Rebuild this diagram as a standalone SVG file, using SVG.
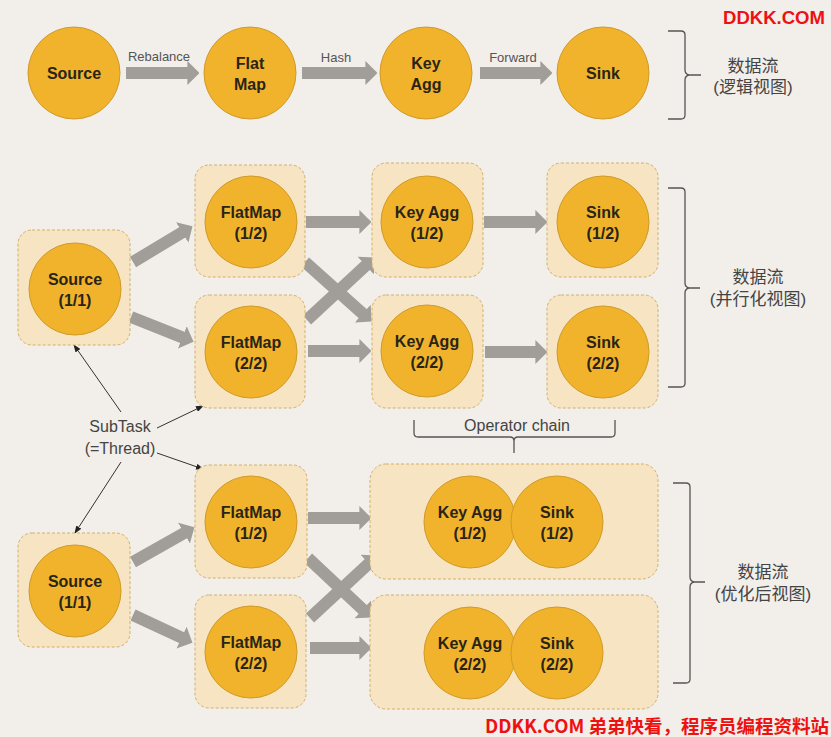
<svg xmlns="http://www.w3.org/2000/svg" width="831" height="737" viewBox="0 0 831 737">
<defs>
<style>
.bg{fill:#f2eee9}
.c{fill:#f1b32b;stroke:#cf9a2a;stroke-width:1}
.box{fill:#f6e4c3;stroke:#d4b067;stroke-width:1;stroke-dasharray:3 2}
.t{font-family:"Liberation Sans",Arial,sans-serif;font-weight:bold;font-size:16px;fill:#2a2418;text-anchor:middle}
.lbl{font-family:"Liberation Sans",Arial,sans-serif;font-size:13px;fill:#555;text-anchor:middle}
.note{font-family:"Liberation Sans",Arial,sans-serif;font-size:16px;fill:#444;text-anchor:middle}
.cn{font-family:"Liberation Sans","Noto Sans CJK SC",sans-serif;font-size:17px;fill:#444;text-anchor:middle}
.red{font-family:"Noto Sans CJK SC",sans-serif;font-weight:bold;fill:#ee1111;text-anchor:end}
.redl{font-family:"Liberation Sans",Arial,sans-serif;font-weight:bold;fill:#ee1111}
.fat{stroke:#a19e9a;stroke-width:12;fill:none;marker-end:url(#ah)}
.thin{stroke:#333;stroke-width:1;fill:none;marker-end:url(#th)}
.br{stroke:#555;stroke-width:1.3;fill:none}
</style>
<marker id="ah" viewBox="0 0 1 2" markerWidth="1" markerHeight="2" refX="0.05" refY="1" orient="auto" markerUnits="strokeWidth">
<path d="M0,0 L1,1 L0,2 Z" fill="#a19e9a"/>
</marker>
<marker id="th" viewBox="0 0 8 6" markerWidth="8" markerHeight="6" refX="7" refY="3" orient="auto" markerUnits="userSpaceOnUse">
<path d="M0,0 L8,3 L0,6 Z" fill="#222"/>
</marker>
</defs>
<rect class="bg" x="0" y="0" width="831" height="737"/>

<g id="connectors">
<line class="fat" x1="126" y1="73" x2="188" y2="73"/>
<line class="fat" x1="302" y1="73" x2="366" y2="73"/>
<line class="fat" x1="480" y1="73" x2="541" y2="73"/>
<line class="fat" x1="133" y1="262" x2="182.7" y2="232.2"/>
<line class="fat" x1="131" y1="317" x2="182.9" y2="337.6"/>
<line class="fat" x1="306" y1="222" x2="360" y2="222"/>
<line class="fat" x1="308" y1="351" x2="360" y2="351"/>
<line class="fat" x1="305" y1="262" x2="363.1" y2="314"/>
<line class="fat" x1="307" y1="320" x2="366.2" y2="265.2"/>
<line class="fat" x1="484" y1="222" x2="536" y2="222"/>
<line class="fat" x1="485" y1="352" x2="536" y2="352"/>
<line class="fat" x1="133" y1="562" x2="184.5" y2="532.9"/>
<line class="fat" x1="133" y1="615" x2="182.1" y2="637.9"/>
<line class="fat" x1="308" y1="518" x2="360" y2="518"/>
<line class="fat" x1="310" y1="648" x2="360" y2="648"/>
<line class="fat" x1="308" y1="558" x2="363.2" y2="609.8"/>
<line class="fat" x1="310" y1="618" x2="369.2" y2="563.2"/>
<line class="thin" x1="121" y1="412" x2="74" y2="345"/>
<line class="thin" x1="157" y1="428" x2="203" y2="406"/>
<line class="thin" x1="157" y1="453" x2="203" y2="469"/>
<line class="thin" x1="121" y1="462" x2="75" y2="533"/>
</g>

<g id="n-source"><circle class="c" cx="74" cy="73" r="46"/><text class="t" x="74" y="79">Source</text></g>
<g id="n-flatmap"><circle class="c" cx="250" cy="73" r="46"/><text class="t" x="250" y="69">Flat</text><text class="t" x="250" y="90">Map</text></g>
<g id="n-keyagg"><circle class="c" cx="426" cy="73" r="46"/><text class="t" x="426" y="69">Key</text><text class="t" x="426" y="90">Agg</text></g>
<g id="n-sink"><circle class="c" cx="603" cy="73" r="46"/><text class="t" x="603" y="79">Sink</text></g>
<g id="edge-labels">
<text class="lbl" x="159" y="61">Rebalance</text>
<text class="lbl" x="336" y="62">Hash</text>
<text class="lbl" x="513" y="62">Forward</text>
</g>
<g id="brace-logical">
<path class="br" d="M668,31 L681,31 Q685,31 685,35 L685,70 Q685,74 689,75 L701,75 M689,75 Q685,76 685,80 L685,115 Q685,119 681,119 L668,119"/>
<text class="cn" x="753" y="72">数据流</text>
<text class="cn" x="753" y="93">(逻辑视图)</text>
</g>

<g id="p-source"><rect class="box" x="18" y="230" width="112" height="115" rx="14"/><circle class="c" cx="75" cy="289" r="46"/><text class="t" x="75" y="285">Source</text><text class="t" x="75" y="306">(1/1)</text></g>
<g id="p-flatmap1"><rect class="box" x="195" y="165" width="110" height="112" rx="14"/><circle class="c" cx="251" cy="222" r="46"/><text class="t" x="251" y="218">FlatMap</text><text class="t" x="251" y="239">(1/2)</text></g>
<g id="p-flatmap2"><rect class="box" x="195" y="295" width="110" height="113" rx="14"/><circle class="c" cx="251" cy="352" r="46"/><text class="t" x="251" y="348">FlatMap</text><text class="t" x="251" y="369">(2/2)</text></g>
<g id="p-keyagg1"><rect class="box" x="372" y="163" width="111" height="114" rx="14"/><circle class="c" cx="427" cy="222" r="46"/><text class="t" x="427" y="218">Key Agg</text><text class="t" x="427" y="239">(1/2)</text></g>
<g id="p-keyagg2"><rect class="box" x="372" y="295" width="111" height="113" rx="14"/><circle class="c" cx="427" cy="351" r="46"/><text class="t" x="427" y="347">Key Agg</text><text class="t" x="427" y="368">(2/2)</text></g>
<g id="p-sink1"><rect class="box" x="547" y="163" width="111" height="114" rx="14"/><circle class="c" cx="603" cy="222" r="46"/><text class="t" x="603" y="218">Sink</text><text class="t" x="603" y="239">(1/2)</text></g>
<g id="p-sink2"><rect class="box" x="547" y="295" width="111" height="113" rx="14"/><circle class="c" cx="603" cy="352" r="46"/><text class="t" x="603" y="348">Sink</text><text class="t" x="603" y="369">(2/2)</text></g>
<g id="brace-parallel">
<path class="br" d="M668,188 L681,188 Q685,188 685,192 L685,283 Q685,287 689,288 L700,288 M689,288 Q685,289 685,293 L685,383 Q685,387 681,387 L668,387"/>
<text class="cn" x="758" y="283">数据流</text>
<text class="cn" x="758" y="305">(并行化视图)</text>
</g>
<g id="operator-chain">
<path class="br" d="M414,420 L414,433 Q414,437 418,437 L510,437 Q514,437 514,441 L514,453 M514,441 Q514,437 518,437 L611,437 Q615,437 615,433 L615,420"/>
<text class="note" x="517" y="431">Operator chain</text>
</g>
<g id="subtask">
<text class="note" x="120" y="432">SubTask</text>
<text class="note" x="120" y="454">(=Thread)</text>
</g>

<g id="o-source"><rect class="box" x="18" y="533" width="112" height="114" rx="14"/><circle class="c" cx="75" cy="591" r="46"/><text class="t" x="75" y="587">Source</text><text class="t" x="75" y="608">(1/1)</text></g>
<g id="o-flatmap1"><rect class="box" x="195" y="465" width="112" height="113" rx="14"/><circle class="c" cx="251" cy="522" r="46"/><text class="t" x="251" y="518">FlatMap</text><text class="t" x="251" y="539">(1/2)</text></g>
<g id="o-flatmap2"><rect class="box" x="195" y="595" width="111" height="113" rx="14"/><circle class="c" cx="251" cy="652" r="46"/><text class="t" x="251" y="648">FlatMap</text><text class="t" x="251" y="669">(2/2)</text></g>
<g id="o-chain1"><rect class="box" x="370" y="464" width="288" height="115" rx="16"/><circle class="c" cx="470" cy="522" r="46"/><circle class="c" cx="557" cy="522" r="46"/><text class="t" x="470" y="518">Key Agg</text><text class="t" x="470" y="539">(1/2)</text><text class="t" x="557" y="518">Sink</text><text class="t" x="557" y="539">(1/2)</text></g>
<g id="o-chain2"><rect class="box" x="370" y="595" width="288" height="114" rx="16"/><circle class="c" cx="470" cy="653" r="46"/><circle class="c" cx="557" cy="653" r="46"/><text class="t" x="470" y="649">Key Agg</text><text class="t" x="470" y="670">(2/2)</text><text class="t" x="557" y="649">Sink</text><text class="t" x="557" y="670">(2/2)</text></g>
<g id="brace-optimized">
<path class="br" d="M673,483 L686,483 Q690,483 690,487 L690,577 Q690,581 694,582 L705,582 M694,582 Q690,583 690,587 L690,679 Q690,683 686,683 L673,683"/>
<text class="cn" x="763" y="578">数据流</text>
<text class="cn" x="763" y="600">(优化后视图)</text>
</g>

<g id="watermarks">
<text class="redl" x="723" y="24" font-size="19" textLength="102" lengthAdjust="spacingAndGlyphs">DDKK.COM</text>
<text class="red" x="829" y="733" font-size="18.5">DDKK.COM 弟弟快看，程序员编程资料站</text>
</g>
</svg>
